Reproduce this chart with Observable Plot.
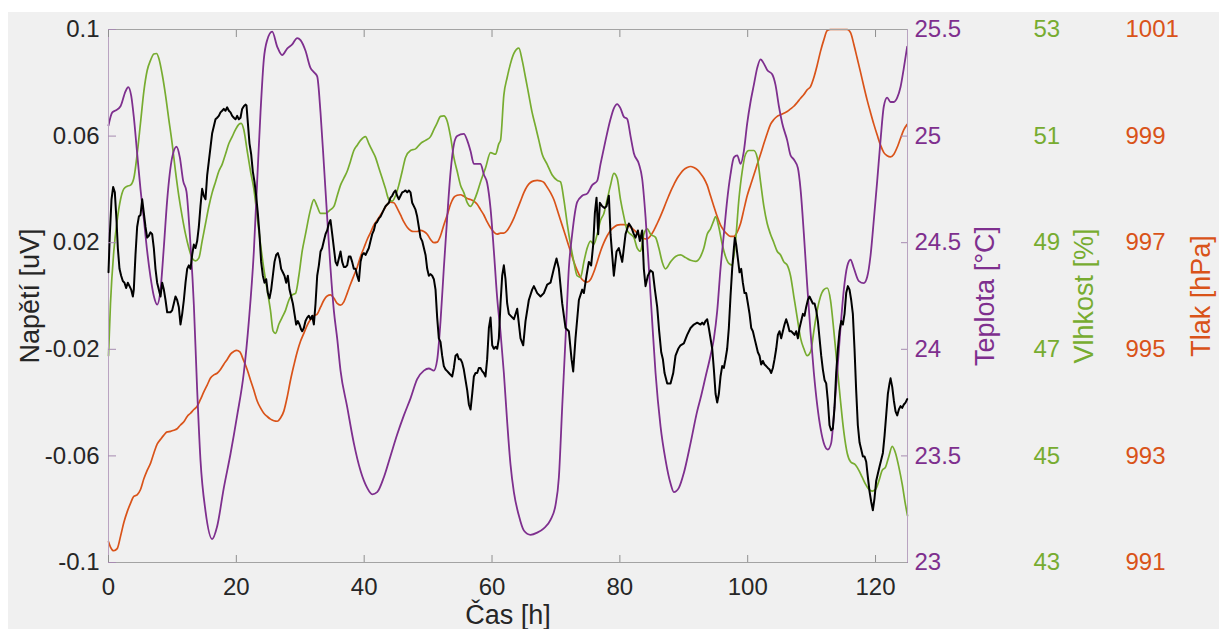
<!DOCTYPE html>
<html><head><meta charset="utf-8">
<script src="https://cdn.jsdelivr.net/npm/d3@7"></script>
<script src="https://cdn.jsdelivr.net/npm/@observablehq/plot@0.6"></script>
<style>
html,body{margin:0;padding:0;background:#fff;width:1219px;height:629px;overflow:hidden;}
#panel{position:absolute;left:8px;top:12px;width:1211px;height:617px;background:#f0f0f0;}
#chart{position:absolute;left:0;top:0;width:1219px;height:629px;}
#chart svg{position:absolute;left:0;top:0;}
</style></head><body><div id="panel"></div><div id="chart"></div>
<script>
// [čas h, napětí uV]
const napeti = [[0,0.0089],[0.21,0.0232],[0.47,0.0363],[0.73,0.0409],[0.99,0.0389],[1.25,0.0285],[1.46,0.0180],[1.72,0.0102],[1.98,0.0076],[2.24,0.0056],[2.5,0.0050],[2.76,0.0030],[3.02,0.0050],[3.29,0.0037],[3.55,0.0024],[3.81,-0.0002],[3.96,0.0024],[4.22,0.0154],[4.48,0.0259],[4.75,0.0298],[5.01,0.0304],[5.27,0.0363],[5.53,0.0311],[5.79,0.0259],[6.05,0.0219],[6.31,0.0226],[6.57,0.0239],[6.83,0.0232],[7.09,0.0180],[7.35,0.0102],[7.61,0.0050],[7.87,0.0024],[8.14,-0.0002],[8.4,0.0050],[8.66,0.0024],[8.92,-0.0015],[9.18,-0.0061],[9.7,-0.0061],[9.96,-0.0054],[10.22,-0.0028],[10.48,-0.0002],[10.74,-0.0015],[11,-0.0041],[11.26,-0.0107],[11.53,-0.0067],[11.79,-0.0015],[12.05,0.0050],[12.31,0.0102],[12.57,0.0115],[12.83,0.0102],[13.09,0.0154],[13.35,0.0193],[13.61,0.0180],[13.87,0.0206],[14.13,0.0259],[14.39,0.0337],[14.65,0.0402],[14.91,0.0376],[15.18,0.0363],[15.44,0.0454],[15.7,0.0506],[15.96,0.0559],[16.22,0.0611],[16.48,0.0637],[16.74,0.0663],[17,0.0669],[17.26,0.0676],[17.52,0.0689],[17.78,0.0695],[18.04,0.0702],[18.3,0.0695],[18.57,0.0708],[18.83,0.0695],[19.09,0.0689],[19.35,0.0676],[19.61,0.0669],[19.87,0.0663],[20.13,0.0676],[20.39,0.0663],[20.65,0.0669],[20.91,0.0702],[21.17,0.0712],[21.43,0.0718],[21.59,0.0715],[21.8,0.0650],[22.06,0.0572],[22.32,0.0532],[22.58,0.0467],[22.84,0.0428],[23.1,0.0376],[23.36,0.0311],[23.62,0.0232],[23.88,0.0128],[24.15,0.0076],[24.41,0.0050],[24.67,0.0063],[24.93,0.0011],[25.19,-0.0009],[25.45,0.0024],[25.71,0.0076],[25.97,0.0128],[26.23,0.0154],[26.49,0.0161],[26.75,0.0141],[27.01,0.0102],[27.27,0.0089],[27.53,0.0076],[27.8,0.0050],[28.06,0.0076],[28.32,0.0024],[28.58,-0.0002],[28.84,-0.0028],[29.1,-0.0067],[29.36,-0.0107],[29.62,-0.0094],[29.88,-0.0107],[30.14,-0.0126],[30.3,-0.0132],[30.56,-0.0120],[30.82,-0.0094],[31.08,-0.0081],[31.34,-0.0074],[31.6,-0.0087],[31.87,-0.0074],[32.13,-0.0107],[32.39,-0.0028],[32.65,0.0076],[32.91,0.0115],[33.17,0.0167],[33.43,0.0180],[33.69,0.0206],[33.95,0.0232],[34.21,0.0246],[34.47,0.0272],[34.73,0.0285],[35,0.0232],[35.26,0.0180],[35.52,0.0128],[35.78,0.0115],[36.04,0.0141],[36.3,0.0167],[36.56,0.0128],[36.82,0.0109],[37.08,0.0109],[37.34,0.0115],[37.6,0.0148],[37.86,0.0148],[38.12,0.0128],[38.38,0.0102],[38.65,0.0102],[38.91,0.0076],[39.17,0.0056],[39.43,0.0128],[39.69,0.0154],[39.95,0.0161],[40.21,0.0154],[40.47,0.0167],[40.73,0.0180],[40.99,0.0206],[41.25,0.0232],[41.51,0.0246],[41.77,0.0272],[42.03,0.0278],[42.3,0.0291],[42.56,0.0298],[42.82,0.0311],[43.08,0.0324],[43.34,0.0337],[43.6,0.0343],[43.86,0.0350],[44.12,0.0369],[44.38,0.0376],[44.64,0.0389],[44.9,0.0396],[45.16,0.0376],[45.42,0.0363],[45.69,0.0376],[45.95,0.0389],[46.21,0.0392],[46.47,0.0396],[46.73,0.0389],[46.99,0.0396],[47.25,0.0389],[47.51,0.0350],[47.77,0.0337],[48.03,0.0324],[48.29,0.0298],[48.55,0.0259],[48.81,0.0219],[49.08,0.0206],[49.34,0.0180],[49.6,0.0154],[49.86,0.0102],[50.12,0.0076],[50.38,0.0082],[50.64,0.0076],[50.9,0.0063],[51.16,0.0024],[51.42,-0.0081],[51.68,-0.0159],[51.94,-0.0172],[52.2,-0.0224],[52.46,-0.0263],[52.73,-0.0276],[52.99,-0.0282],[53.25,-0.0289],[53.51,-0.0296],[53.77,-0.0302],[54.03,-0.0270],[54.29,-0.0224],[54.55,-0.0218],[54.81,-0.0237],[55.07,-0.0237],[55.33,-0.0250],[55.59,-0.0276],[55.85,-0.0315],[56.12,-0.0354],[56.38,-0.0407],[56.64,-0.0426],[56.9,-0.0367],[57.16,-0.0302],[57.42,-0.0289],[57.68,-0.0289],[57.94,-0.0270],[58.2,-0.0270],[58.46,-0.0282],[58.72,-0.0289],[58.98,-0.0302],[59.24,-0.0237],[59.51,-0.0120],[59.77,-0.0081],[60.03,-0.0185],[60.29,-0.0198],[60.55,-0.0191],[60.81,-0.0198],[61.07,-0.0159],[61.33,-0.0028],[61.59,0.0076],[61.85,0.0115],[62.11,0.0063],[62.37,-0.0028],[62.63,-0.0067],[63.42,-0.0087],[63.94,-0.0048],[64.46,-0.0159],[64.88,-0.0185],[65.24,-0.0094],[65.76,-0.0015],[66.28,0.0024],[66.55,0.0037],[67.07,0.0011],[67.59,-0.0002],[68.11,0.0011],[68.63,0.0043],[69.15,0.0050],[69.67,0.0102],[70.09,0.0141],[70.46,0.0102],[70.98,-0.0028],[71.5,-0.0120],[72.02,-0.0132],[72.44,-0.0237],[72.7,-0.0283],[73.06,-0.0159],[73.59,-0.0015],[74.11,0.0024],[74.37,0.0011],[74.78,0.0076],[75.15,0.0128],[75.51,0.0115],[75.83,0.0193],[76.09,0.0311],[76.35,0.0369],[76.61,0.0232],[76.87,0.0350],[77.24,0.0337],[77.6,0.0330],[77.91,0.0337],[78.28,0.0376],[78.54,0.0232],[79.06,0.0076],[79.48,0.0167],[79.84,0.0180],[80.37,0.0128],[80.89,0.0232],[81.41,0.0272],[81.77,0.0259],[82.19,0.0232],[82.45,0.0219],[82.82,0.0246],[83.13,0.0206],[83.49,0.0246],[83.75,0.0102],[84.02,0.0037],[84.38,0.0076],[84.8,0.0096],[85.16,0.0089],[85.48,0.0024],[85.84,-0.0041],[86.15,-0.0132],[86.47,-0.0211],[86.73,-0.0237],[86.99,-0.0289],[87.41,-0.0328],[87.93,-0.0328],[88.35,-0.0289],[88.71,-0.0224],[89.13,-0.0198],[89.49,-0.0185],[90.01,-0.0178],[90.53,-0.0146],[91.06,-0.0120],[91.58,-0.0107],[92.1,-0.0100],[92.62,-0.0107],[92.88,-0.0100],[93.14,-0.0107],[93.4,-0.0094],[93.66,-0.0087],[93.92,-0.0120],[94.18,-0.0159],[94.45,-0.0198],[94.71,-0.0276],[94.97,-0.0367],[95.23,-0.0400],[95.49,-0.0367],[95.75,-0.0302],[96.01,-0.0263],[96.27,-0.0270],[96.53,-0.0237],[96.79,-0.0198],[97.05,-0.0120],[97.31,-0.0002],[97.57,0.0102],[97.84,0.0180],[97.99,0.0219],[98.2,0.0193],[98.46,0.0141],[98.72,0.0089],[98.98,0.0102],[99.24,0.0050],[99.5,0.0011],[99.76,0.0011],[100.03,-0.0028],[100.29,-0.0067],[100.55,-0.0120],[100.81,-0.0132],[101.07,-0.0159],[101.33,-0.0185],[101.59,-0.0211],[101.85,-0.0224],[102.11,-0.0257],[102.37,-0.0244],[102.63,-0.0257],[102.89,-0.0263],[103.15,-0.0270],[103.42,-0.0276],[103.68,-0.0289],[103.94,-0.0270],[104.2,-0.0237],[104.46,-0.0198],[104.72,-0.0146],[104.98,-0.0132],[105.24,-0.0159],[105.5,-0.0132],[105.76,-0.0107],[106.02,-0.0087],[106.28,-0.0107],[106.54,-0.0132],[106.8,-0.0132],[107.07,-0.0139],[107.33,-0.0146],[107.59,-0.0132],[107.85,-0.0159],[108.11,-0.0120],[108.37,-0.0094],[108.63,-0.0067],[108.89,-0.0074],[109.15,-0.0041],[109.41,-0.0015],[109.67,-0.0002],[109.93,-0.0015],[110.19,-0.0028],[110.46,-0.0028],[110.72,-0.0054],[110.98,-0.0094],[111.24,-0.0159],[111.5,-0.0224],[111.76,-0.0276],[112.02,-0.0315],[112.28,-0.0328],[112.54,-0.0393],[112.8,-0.0485],[113.06,-0.0504],[113.32,-0.0498],[113.58,-0.0420],[113.84,-0.0289],[114.11,-0.0198],[114.37,-0.0132],[114.63,-0.0094],[114.89,-0.0107],[115.15,-0.0067],[115.41,0.0011],[115.67,0.0037],[115.93,0.0024],[116.19,-0.0015],[116.45,-0.0067],[116.71,-0.0198],[116.97,-0.0354],[117.23,-0.0485],[117.5,-0.0550],[117.76,-0.0576],[118.02,-0.0602],[118.28,-0.0602],[118.54,-0.0622],[118.8,-0.0680],[119.06,-0.0733],[119.32,-0.0772],[119.58,-0.0804],[119.84,-0.0759],[120.1,-0.0694],[120.36,-0.0667],[120.62,-0.0641],[120.88,-0.0615],[121.15,-0.0589],[121.41,-0.0524],[121.67,-0.0446],[121.93,-0.0367],[122.19,-0.0328],[122.35,-0.0309],[122.61,-0.0341],[122.87,-0.0393],[123.13,-0.0433],[123.39,-0.0448],[123.65,-0.0426],[123.91,-0.0413],[124.17,-0.0420],[124.43,-0.0407],[124.69,-0.0400],[124.95,-0.0387]];

// [čas h, teplota °C]
const teplota = [[0,25.05],[0.57,25.11],[1.1,25.12],[1.88,25.14],[2.66,25.21],[3.08,25.23],[3.55,25.19],[3.96,25.09],[4.48,24.92],[5.01,24.75],[5.53,24.61],[6.05,24.46],[6.57,24.34],[7.09,24.25],[7.61,24.21],[8.14,24.28],[8.66,24.48],[9.18,24.70],[9.96,24.90],[10.64,24.95],[11.16,24.90],[11.68,24.79],[12.2,24.74],[12.72,24.54],[13.35,24.21],[13.87,23.81],[14.39,23.48],[15.18,23.24],[16.22,23.11],[17,23.17],[18.04,23.35],[19.09,23.51],[20.13,23.69],[21.17,23.89],[21.95,24.13],[22.74,24.46],[23.26,24.79],[23.78,25.11],[24.3,25.36],[24.82,25.45],[25.61,25.49],[26.39,25.42],[27.17,25.38],[27.95,25.41],[28.74,25.43],[29.52,25.46],[30.04,25.45],[30.82,25.40],[31.6,25.32],[32.13,25.30],[32.65,25.28],[33.17,25.11],[33.69,24.87],[34.21,24.62],[34.73,24.38],[35.26,24.18],[35.78,24.05],[36.3,23.90],[37.34,23.73],[38.38,23.56],[39.43,23.43],[40.47,23.35],[41.25,23.32],[42.03,23.33],[43.08,23.40],[44.12,23.50],[45.16,23.60],[46.21,23.69],[47.25,23.77],[48.29,23.86],[49.34,23.90],[50.12,23.91],[50.9,23.90],[51.42,23.95],[51.94,24.13],[52.46,24.38],[52.99,24.62],[53.51,24.83],[54.03,24.96],[54.55,25.00],[55.59,25.01],[56.12,24.98],[56.64,24.93],[57.16,24.87],[57.68,24.87],[58.2,24.87],[58.72,24.82],[59.24,24.78],[59.77,24.66],[60.29,24.46],[60.81,24.24],[61.33,24.08],[61.85,23.89],[62.37,23.66],[62.89,23.46],[63.42,23.33],[64.2,23.22],[64.98,23.15],[66.02,23.13],[67.07,23.14],[68.11,23.16],[69.15,23.20],[69.94,23.27],[70.46,23.40],[70.98,23.73],[71.5,24.05],[72.02,24.38],[72.54,24.54],[73.32,24.69],[74.11,24.72],[74.89,24.73],[75.67,24.77],[76.45,24.79],[76.98,24.87],[77.76,24.98],[78.54,25.08],[79.06,25.13],[79.58,25.15],[80.1,25.13],[80.63,25.09],[81.15,25.08],[81.67,25.00],[82.19,24.92],[82.97,24.87],[83.49,24.80],[84.02,24.62],[84.54,24.38],[85.06,24.13],[85.58,23.89],[86.36,23.64],[87.15,23.48],[87.93,23.37],[88.45,23.33],[89.23,23.35],[90.01,23.42],[91.06,23.56],[92.1,23.71],[92.62,23.77],[93.4,23.87],[94.18,23.97],[94.71,24.05],[95.23,24.18],[95.75,24.38],[96.27,24.54],[96.79,24.70],[97.31,24.82],[97.84,24.90],[98.36,24.91],[98.88,24.87],[99.4,24.93],[99.92,25.06],[100.44,25.16],[100.96,25.24],[101.49,25.32],[102.01,25.36],[102.53,25.34],[103.05,25.31],[103.83,25.29],[104.35,25.24],[104.88,25.14],[105.4,25.06],[106.18,24.98],[106.7,24.91],[107.22,24.89],[107.85,24.85],[108.27,24.75],[108.79,24.54],[109.31,24.30],[109.83,24.08],[110.35,23.89],[110.87,23.74],[111.39,23.63],[112.02,23.55],[112.54,23.53],[113.06,23.56],[113.48,23.69],[114,23.89],[114.52,24.10],[115.04,24.28],[115.57,24.39],[116.09,24.42],[116.61,24.38],[117.39,24.32],[118.17,24.31],[118.7,24.34],[119.22,24.44],[119.74,24.61],[120.26,24.79],[120.78,24.98],[121.3,25.14],[121.82,25.18],[122.35,25.16],[122.87,25.16],[123.39,25.18],[123.91,25.23],[124.43,25.32],[124.95,25.42]];

// [čas h, vlhkost %]
const vlhkost = [[0,46.88],[0.31,47.86],[0.83,48.84],[1.36,49.42],[1.88,49.81],[2.4,50.01],[2.92,50.06],[3.44,50.08],[3.96,50.21],[4.48,50.66],[5.01,51.25],[5.53,51.84],[6.05,52.23],[6.57,52.42],[7.09,52.54],[7.51,52.55],[7.87,52.46],[8.4,52.16],[8.92,51.77],[9.44,51.31],[9.96,50.86],[10.48,50.34],[11,49.88],[11.53,49.49],[12.05,49.16],[12.57,48.90],[13.09,48.71],[13.61,48.66],[14.13,48.71],[14.65,49.03],[15.18,49.36],[15.7,49.68],[16.22,49.94],[16.74,50.14],[17.26,50.34],[17.78,50.47],[18.3,50.66],[18.83,50.86],[19.35,50.99],[19.87,51.12],[20.39,51.22],[20.76,51.24],[21.17,51.12],[21.69,50.73],[22.22,50.34],[22.74,50.01],[23.26,49.49],[23.78,48.97],[24.3,48.51],[24.82,48.12],[25.34,47.73],[25.76,47.34],[26.13,47.30],[26.65,47.47],[27.17,47.60],[27.69,47.73],[28.21,47.92],[28.74,48.02],[29.26,48.05],[29.78,48.38],[30.3,48.84],[30.82,49.16],[31.6,49.62],[32.13,49.81],[32.65,49.68],[33.17,49.55],[33.95,49.55],[34.73,49.62],[35.26,49.68],[35.78,49.88],[36.3,50.08],[36.82,50.21],[37.34,50.34],[37.86,50.53],[38.38,50.73],[38.91,50.83],[39.43,50.92],[40.21,50.99],[40.73,50.86],[41.25,50.73],[41.77,50.60],[42.3,50.40],[42.82,50.21],[43.34,50.01],[43.86,49.81],[44.38,49.78],[44.9,49.88],[45.42,50.08],[45.95,50.34],[46.47,50.60],[47.25,50.73],[48.03,50.76],[48.81,50.86],[49.6,50.92],[50.38,50.99],[50.9,51.12],[51.42,51.25],[51.94,51.37],[52.46,51.38],[52.99,51.28],[53.51,50.99],[54.03,50.60],[54.55,50.34],[55.07,50.08],[55.59,49.94],[56.12,49.75],[56.64,49.68],[57.16,49.78],[57.68,49.94],[58.2,50.14],[58.98,50.40],[59.77,50.69],[60.55,50.66],[61.07,50.86],[61.33,50.92],[61.85,51.77],[62.37,52.10],[62.89,52.36],[63.42,52.55],[64.2,52.65],[64.72,52.42],[65.24,52.10],[65.76,51.77],[66.28,51.44],[66.81,51.18],[67.33,50.92],[67.85,50.66],[68.63,50.47],[69.41,50.27],[70.2,50.17],[70.72,50.14],[71.24,49.81],[71.76,49.36],[72.28,48.97],[72.8,48.64],[73.32,48.38],[73.85,48.35],[74.37,48.64],[74.89,48.90],[75.41,49.03],[75.93,48.97],[76.45,49.16],[76.98,49.42],[77.5,49.55],[78.02,49.81],[78.54,50.08],[79.06,50.30],[79.58,50.21],[80.1,49.81],[80.63,49.49],[81.15,49.23],[81.67,49.16],[82.19,49.10],[82.71,48.90],[83.23,48.84],[83.75,49.16],[84.28,49.26],[84.8,49.16],[85.58,49.10],[86.1,48.90],[86.62,48.64],[87.15,48.51],[87.93,48.64],[88.71,48.74],[89.49,48.77],[90.27,48.72],[91.06,48.67],[91.84,48.65],[92.62,48.74],[93.14,48.90],[93.66,49.16],[94.18,49.26],[94.71,49.42],[94.97,49.49],[95.49,49.29],[96.01,48.97],[96.53,48.74],[97.05,48.61],[97.57,48.58],[98.1,49.03],[98.62,49.81],[99.14,50.34],[99.66,50.66],[100.18,50.73],[100.96,50.73],[101.49,50.60],[102.01,50.14],[102.53,49.68],[103.05,49.36],[103.57,49.16],[104.09,49.00],[104.61,48.84],[105.14,48.77],[105.66,48.64],[106.18,48.58],[106.7,48.38],[107.22,47.99],[107.74,47.60],[108.27,47.21],[108.79,47.01],[109.31,46.88],[109.83,46.95],[110.35,47.34],[110.87,47.73],[111.39,47.99],[111.92,48.12],[112.44,48.15],[112.96,47.92],[113.48,47.34],[114,46.68],[114.52,46.03],[115.04,45.45],[115.57,45.05],[116.09,44.89],[116.87,44.83],[117.39,44.73],[117.91,44.60],[118.43,44.47],[118.96,44.37],[119.48,44.34],[120,44.37],[120.52,44.53],[121.04,44.73],[121.56,44.79],[122.08,44.99],[122.61,45.18],[123.13,45.05],[123.65,44.79],[124.17,44.47],[124.69,44.08],[125,43.88]];

// [čas h, tlak hPa]
const tlak = [[0,991.39],[0.31,991.29],[0.83,991.22],[1.36,991.26],[1.88,991.49],[2.4,991.75],[2.92,991.95],[3.44,992.11],[3.96,992.24],[4.48,992.27],[5.01,992.37],[5.53,992.57],[6.05,992.73],[6.57,992.86],[7.09,993.05],[7.61,993.22],[8.14,993.31],[8.66,993.39],[9.18,993.45],[9.7,993.46],[10.22,993.48],[10.74,993.51],[11.26,993.58],[11.79,993.64],[12.31,993.74],[12.83,993.80],[13.35,993.87],[13.87,993.93],[14.39,994.06],[14.91,994.20],[15.44,994.33],[15.96,994.46],[16.48,994.52],[17,994.55],[17.52,994.62],[18.04,994.72],[18.57,994.81],[19.09,994.91],[19.61,994.96],[20.03,994.98],[20.55,994.95],[21.07,994.81],[21.69,994.62],[22.22,994.42],[22.74,994.23],[23.26,994.03],[23.78,993.90],[24.3,993.80],[24.82,993.74],[25.34,993.69],[25.87,993.66],[26.39,993.65],[26.91,993.71],[27.43,993.84],[27.95,994.10],[28.47,994.42],[29,994.70],[29.52,994.95],[30.04,995.15],[30.56,995.30],[31.08,995.45],[31.6,995.56],[32.13,995.63],[32.65,995.66],[33.17,995.79],[33.69,995.92],[34.21,996.00],[34.73,996.02],[35.26,995.96],[35.78,995.86],[36.3,995.83],[36.82,995.89],[37.34,996.05],[37.86,996.22],[38.38,996.38],[38.91,996.54],[39.43,996.74],[39.95,996.90],[40.47,997.06],[40.99,997.19],[41.51,997.33],[42.03,997.42],[42.56,997.52],[43.08,997.62],[43.6,997.72],[44.12,997.76],[44.64,997.75],[45.16,997.65],[45.69,997.52],[46.21,997.39],[46.73,997.29],[47.25,997.23],[47.77,997.21],[48.29,997.21],[48.81,997.23],[49.34,997.21],[49.86,997.16],[50.38,997.06],[50.9,997.00],[51.42,997.01],[51.94,997.13],[52.46,997.33],[52.99,997.52],[53.51,997.72],[54.03,997.85],[54.55,997.89],[55.07,997.90],[55.59,997.87],[56.12,997.83],[56.64,997.81],[57.16,997.78],[57.68,997.72],[58.2,997.62],[58.72,997.52],[59.24,997.39],[59.77,997.28],[60.29,997.20],[60.81,997.16],[61.33,997.18],[61.85,997.18],[62.37,997.23],[62.89,997.33],[63.42,997.46],[63.94,997.62],[64.46,997.78],[64.98,997.94],[65.5,998.06],[66.02,998.13],[66.55,998.16],[67.07,998.17],[67.59,998.16],[68.11,998.13],[68.63,998.04],[69.15,997.94],[69.67,997.81],[70.2,997.62],[70.72,997.42],[71.24,997.23],[71.76,997.03],[72.28,996.84],[72.8,996.64],[73.32,996.48],[73.85,996.35],[74.37,996.28],[74.89,996.26],[75.41,996.31],[75.93,996.45],[76.45,996.64],[76.98,996.84],[77.5,997.00],[78.02,997.13],[78.54,997.23],[79.06,997.29],[79.58,997.33],[80.1,997.34],[80.63,997.34],[81.15,997.33],[81.67,997.29],[82.19,997.24],[82.71,997.18],[83.23,997.11],[83.75,997.08],[84.28,997.07],[84.8,997.13],[85.32,997.23],[85.84,997.36],[86.36,997.50],[86.88,997.65],[87.41,997.81],[87.93,997.96],[88.45,998.09],[88.97,998.21],[89.49,998.30],[90.01,998.37],[90.53,998.41],[91.06,998.43],[91.58,998.41],[92.1,998.37],[92.62,998.30],[93.14,998.21],[93.66,998.08],[94.18,997.88],[94.71,997.68],[95.23,997.49],[95.75,997.33],[96.27,997.23],[96.79,997.16],[97.31,997.12],[97.84,997.12],[98.36,997.20],[98.88,997.36],[99.4,997.62],[99.92,997.88],[100.44,998.08],[100.96,998.27],[101.49,998.47],[102.01,998.66],[102.53,998.86],[103.05,999.05],[103.57,999.22],[104.09,999.31],[104.61,999.37],[105.14,999.40],[105.66,999.43],[106.18,999.46],[106.7,999.51],[107.22,999.56],[107.74,999.63],[108.27,999.71],[108.79,999.78],[109.31,999.87],[109.83,999.93],[110.35,1000.10],[110.87,1000.33],[111.39,1000.59],[111.92,1000.81],[112.44,1000.98],[112.96,1001],[113.5,1001],[114,1001],[114.5,1001],[115,1001],[115.57,1001],[116.09,1000.94],[116.61,1000.72],[117.13,1000.46],[117.65,1000.20],[118.17,999.93],[118.7,999.67],[119.22,999.44],[119.74,999.22],[120.26,999.02],[120.78,998.83],[121.3,998.69],[121.82,998.63],[122.35,998.61],[122.87,998.66],[123.39,998.79],[123.91,998.96],[124.43,999.12],[124.95,999.22]];

const casTicks = [0, 20, 40, 60, 80, 100, 120];
const napetiTicks = [-0.1, -0.06, -0.02, 0.02, 0.06, 0.1];
const teplotaTicks = [23, 23.5, 24, 24.5, 25, 25.5];
const vlhkostTicks = [43, 45, 47, 49, 51, 53];
const tlakTicks = [991, 993, 995, 997, 999, 1001];

const barvy = {napeti: "#000000", teplota: "#7E2F8E", vlhkost: "#77AC30", tlak: "#D95319", text: "#262626"};
const font = "'Liberation Sans', Arial, Helvetica, sans-serif";
const W = 1219, H = 629;
const okraje = {marginLeft: 108, marginRight: 312, marginTop: 29, marginBottom: 67};
const fmt = d => String(d);

function panel(yDomain, marks, xAxis) {
  return Plot.plot({
    width: W, height: H, ...okraje,
    style: {background: "transparent", fontFamily: font, fontSize: "24px", overflow: "visible"},
    x: {domain: [0, 125], label: null, ...(xAxis ? {} : {axis: null})},
    y: {domain: yDomain, label: null},
    marks
  });
}

const title = (t, o) => Plot.text([t], {text: d => d, fontSize: 27, textAnchor: "middle", ...o});

const svgTlak = panel([991, 1001], [
  Plot.line(tlak, {x: d => d[0], y: d => d[1], stroke: barvy.tlak, strokeWidth: 1.7, curve: "monotone-x"}),
  Plot.axisY({anchor: "right", ticks: tlakTicks, tickFormat: fmt, tickSize: 0, tickPadding: 218, fill: barvy.tlak, fontSize: 24, label: null}),
  title("Tlak [hPa]", {frameAnchor: "right", rotate: -90, lineAnchor: "bottom", dx: 302, fill: barvy.tlak})
]);

const svgVlhkost = panel([43, 53], [
  Plot.line(vlhkost, {x: d => d[0], y: d => d[1], stroke: barvy.vlhkost, strokeWidth: 1.7, curve: "monotone-x"}),
  Plot.axisY({anchor: "right", ticks: vlhkostTicks, tickFormat: fmt, tickSize: 0, tickPadding: 126, fill: barvy.vlhkost, fontSize: 24, label: null}),
  title("Vlhkost [%]", {frameAnchor: "right", rotate: -90, lineAnchor: "bottom", dx: 185, fill: barvy.vlhkost})
]);

const svgTeplota = panel([23, 25.5], [
  Plot.line(teplota, {x: d => d[0], y: d => d[1], stroke: barvy.teplota, strokeWidth: 1.8, curve: "monotone-x"}),
  Plot.axisY({anchor: "right", ticks: teplotaTicks, tickFormat: fmt, tickSize: -7, tickPadding: 14, fill: barvy.teplota, stroke: "#a68bb0", fontSize: 24, label: null}),
  title("Teplota [°C]", {frameAnchor: "right", rotate: -90, lineAnchor: "bottom", dx: 86, fill: barvy.teplota})
]);

const svgNapeti = panel([-0.1, 0.1], [
  Plot.ruleY([-0.1, 0.1], {stroke: "#a3a3a3", strokeWidth: 1}),
  Plot.ruleX([0, 125], {stroke: "#b9a3c1", strokeWidth: 1}),
  Plot.line(napeti, {x: d => d[0], y: d => d[1], stroke: barvy.napeti, strokeWidth: 2}),
  Plot.axisX({anchor: "bottom", ticks: casTicks, tickFormat: fmt, tickSize: -7, tickPadding: 22, fill: barvy.text, stroke: "#8f8f8f", fontSize: 24, label: null}),
  Plot.axisX({anchor: "top", ticks: casTicks, tickFormat: () => "", tickSize: -7, tickPadding: 0, stroke: "#8f8f8f", label: null}),
  Plot.axisY({anchor: "left", ticks: napetiTicks, tickFormat: fmt, tickSize: -8, tickPadding: 17, fill: barvy.text, stroke: "#a68bb0", fontSize: 24, label: null}),
  title("Napětí [uV]", {frameAnchor: "left", rotate: -90, lineAnchor: "bottom", dx: -70, fill: barvy.text}),
  title("Čas [h]", {frameAnchor: "bottom", lineAnchor: "bottom", dy: 61, fill: barvy.text})
], true);

const chart = document.getElementById("chart");
[svgTlak, svgVlhkost, svgTeplota, svgNapeti].forEach(s => chart.append(s));
</script></body></html>
